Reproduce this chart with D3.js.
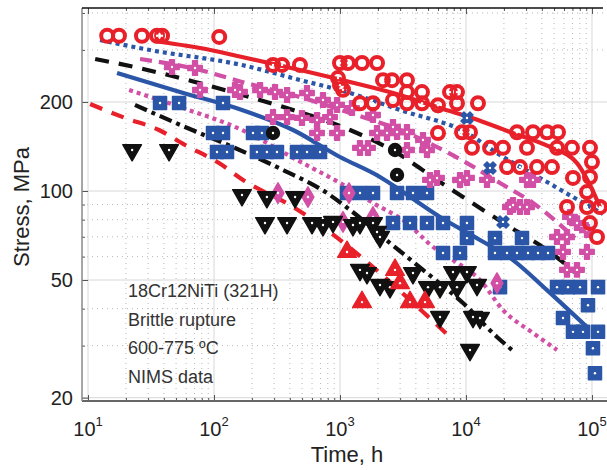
<!DOCTYPE html>
<html>
<head>
<meta charset="utf-8">
<script src="https://cdn.jsdelivr.net/npm/d3@7"></script>
<style>
body { margin: 0; background: #fff; }
text { font-family: "Liberation Sans", Arial, Helvetica, sans-serif; }
</style>
</head>
<body>
<script>
// time (h), stress (MPa)
var redCircles = [[14.2,335],[17.6,335],[26.8,335],[35.3,335],[38.7,335],[110,332],[294,267],[347,267],[481,267],
    [1000,271],[1157,271],[1495,271],[1967,271],[964,241],[1056,220],[1000,228],[2194,237],[2587,237],[1441,198],
    [1828,198],[2634,203],[3401,237],[3401,216],[3401,198],[4475,216],[4475,198],[5995,195],[7464,216],[8483,216],
    [8483,198],[12450,198],[5995,157],[9297,158],[10760,158],[11160,140],[15510,140],[19670,140],[30490,140],
    [25400,158],[34020,158],[43960,158],[53740,158],[52780,140],[69390,140],[96400,140],[21160,120.5],[26830,120.5],
    [36600,120.5],[48140,120.5],[70670,110.7],[100000,125.3],[96400,111.5],[91270,99.2],[63330,88.3],[91270,88.3],
    [115700,88.3],[96400,77.9],[109600,69.9]];
var blueCrosses = [[10180,176.6],[15510,119.6],[19670,78.6]];
var pinkPluses = [[46.4,262.6],[70.7,260.6],[77.4,219.6],[146.8,219.6],[160.8,216.2],[232,219.6],[305,216.2],
    [380,211.2],[547,214.5],[733,203.1],[947,195.4],[1245,190.8],[1828,180.7],[2634,164.6],[294,177.9],[380,177.9],
    [499,176.6],[657,173.9],[833,177.9],[657,157.1],[947,157.1],[1967,157.1],[2361,157.1],[2836,158.3],[1441,139.8],
    [1668,139.8],[3401,158.3],[4558,148.8],[4904,137.6],[3401,137.6],[5179,109],[5887,110.7],[8962,109],[10180,110.7],
    [14680,109],[22350,88.3],[26830,88.3],[30490,88.3],[30490,109],[34020,109],[23610,89.7],[66900,81.7],[76030,77.9],
    [91270,73.8],[52780,69.9],[63330,69.9],[58880,62.2],[91270,62.2],[63330,54.1],[76030,54.1]];
var blackCircles = [[294,157.1],[2733,137.6],[2836,113.3]];
var blueSquares = [[37.3,198.4],[52.8,198.4],[117.9,198.4],[98.2,157.1],[117.9,157.1],[204,157.1],[240,157.1],
    [105.6,135.5],[126.8,135.5],[219,135.5],[263,135.5],[316,135.5],[456,135.5],[547,135.5],[694,135.5],
    [1137,98.4],[1441,98.4],[1828,98.4],[2836,98.4],[3796,98.4],[4904,98.4],[2634,77.9],[3594,77.9],[4904,77.9],
    [6572,77.9],[10180,77.9],[10180,69.3],[6572,61.7],[8962,61.7],[16990,69.3],[27830,69.3],[16990,61.7],
    [21160,61.7],[25400,61.7],[31050,61.7],[37280,61.7],[44770,61.7],[18620,47.3],[52780,47.3],[64490,47.3],
    [80320,47.3],[111600,47.3],[92960,41.1],[58880,37.2],[70670,33.4],[84830,33.4],[111600,33.4],[101800,29.4],
    [105600,24.2]];
var pinkDiamonds = [[322,98.4],[557,95.4],[1056,78.6],[1179,98.4],[1828,81.7],[17620,48.8]];
var blackTriangles = [[22.4,137.6],[44,137.6],[166.8,96.9],[263,95.4],[440,95.4],[254,77.9],[380,77.9],[600,77.9],
    [733,76.7],[880,78.6],[1268,76.7],[1441,77.9],[1828,77.9],[2077,69.9],[1967,72.7],[1441,54.1],[1638,52.8],
    [2077,48.1],[2494,47.3],[3796,52.8],[4995,47.3],[6220,47.3],[7886,53.2],[10180,53.2],[8483,47.3],[12230,48.1],
    [6220,37.5],[11370,37.5],[12910,37.2],[10760,29]];
var redTriangles = [[1137,62.2],[1495,42.1],[2733,54.1],[2994,48.8],[3594,42.1],[4727,42.1]];

// fitted curves
var redSolid = [[33.4,321.6],[77.4,304.4],[166.8,283.9],[481,256.6],[1201,233.7],[2994,211.2],[6220,190.8],
    [12450,173.9],[22350,158.3],[46420,140.9],[76030,124.3],[96400,104.8],[115700,88.3]];
var blueDotted = [[12.45,324],[31,299.7],[166.8,266.7],[481,237.4],[1201,214.5],[2994,187.9],[10180,157.1],
    [18620,132.3],[38680,110.7],[70670,95.4],[122300,83.6]];
var pinkDashed = [[25.9,279.5],[77.4,256.6],[166.8,233.7],[481,207.9],[1201,183.6],[2994,160.8],[10180,124.3],
    [18620,106.4],[34020,91.1],[73300,69.3]];
var blackDashed = [[11.4,279.5],[25.4,260.6],[70.7,233.7],[204,206.3],[424,187.9],[1201,160.8],[2836,134.4],
    [5887,109],[9467,95.4],[22350,75.5],[43960,63.2],[73300,53.2]];
var blueSolid = [[17,250.7],[53.7,216.2],[166.8,187.9],[424,160.8],[1000,130.3],[2077,111.5],[2994,100.8],
    [6220,81.7],[12910,68.3],[23610,58.4],[43960,46.2],[92960,34.4]];
var pinkDotted = [[21.2,219.6],[53.7,192.3],[166.8,160.8],[456,127.3],[1000,106.4],[1828,91.1],[3401,77.9],
    [5472,64.7],[7886,58.4],[12910,50],[19670,39.6],[34020,33.1],[52780,29]];
var blackDashDot = [[23.6,195.4],[58.9,164.6],[146.8,139.8],[353,117.8],[789,98.4],[1201,86.3],[2494,66.7],
    [4558,54.1],[9467,41.8],[17620,32.1],[23180,29]];
var redDashed = [[10.4,196.9],[19.7,176.6],[36.6,160.8],[58.9,143.1],[109.6,124.3],[170,109],[424,88.3],
    [789,73.8],[1828,55.3],[3594,42.8],[7464,32.1]];

var xTicks = [10, 100, 1000, 10000, 100000];
var yTicks = [20, 50, 100, 200];
var yMinor = [30, 40, 60, 70, 80, 90, 300, 400];
var notes = ["18Cr12NiTi (321H)", "Brittle rupture", "600-775 \u00baC", "NIMS data"];

var red = "#e8202a", blue = "#2b56a8", pink = "#d24fa6", black = "#111";

var widthContainer = 607, heightContainer = 470;
var plotL = 82, plotR = 603, plotT = 8, plotB = 401;

var x = d3.scaleLog().domain([8.96, 122300]).range([plotL, plotR]);
var y = d3.scaleLog().domain([19.49, 415.8]).range([plotB, plotT]);

var xMinor = [];
xTicks.forEach(function(d) {
    for (var m = 2; m <= 9; m++) { if (d * m < 122300) xMinor.push(d * m); }
});

var svg = d3.select("body")
    .append("svg")
    .attr("width", widthContainer)
    .attr("height", heightContainer);

svg.append("rect").attr("width", widthContainer).attr("height", heightContainer).attr("fill", "#fff");

// grid
var grid = svg.append("g");
grid.selectAll(".vminor").data(xMinor).enter().append("line")
    .attr("x1", function(d) { return x(d); }).attr("x2", function(d) { return x(d); })
    .attr("y1", plotT).attr("y2", plotB)
    .attr("stroke", "#b8b8b8").attr("stroke-width", 1).attr("stroke-dasharray", "1,4");
grid.selectAll(".hminor").data(yMinor).enter().append("line")
    .attr("y1", function(d) { return y(d); }).attr("y2", function(d) { return y(d); })
    .attr("x1", plotL).attr("x2", widthContainer)
    .attr("stroke", "#b8b8b8").attr("stroke-width", 1).attr("stroke-dasharray", "1,4");
grid.selectAll(".vmajor").data(xTicks).enter().append("line")
    .attr("x1", function(d) { return x(d); }).attr("x2", function(d) { return x(d); })
    .attr("y1", plotT).attr("y2", plotB)
    .attr("stroke", "#d8d8d8").attr("stroke-width", 1);
grid.selectAll(".hmajor").data(yTicks).enter().append("line")
    .attr("y1", function(d) { return y(d); }).attr("y2", function(d) { return y(d); })
    .attr("x1", plotL).attr("x2", widthContainer)
    .attr("stroke", "#d8d8d8").attr("stroke-width", 1);

// axes, ticks inside
function tickAxis(axis, vals, size, tr) {
    var g = svg.append("g").attr("transform", tr)
        .call(axis.tickValues(vals).tickSize(size).tickFormat(""));
    g.select(".domain").remove();
    g.selectAll(".tick line").attr("stroke", "#555").attr("stroke-width", 1);
}
tickAxis(d3.axisBottom(x), xTicks, -6, "translate(0," + plotB + ")");
tickAxis(d3.axisBottom(x), xMinor, -3, "translate(0," + plotB + ")");
tickAxis(d3.axisTop(x), xTicks, -6, "translate(0," + plotT + ")");
tickAxis(d3.axisTop(x), xMinor, -3, "translate(0," + plotT + ")");
tickAxis(d3.axisLeft(y), yTicks, -6, "translate(" + plotL + ",0)");
tickAxis(d3.axisLeft(y), yMinor, -3, "translate(" + plotL + ",0)");

svg.append("line").attr("x1", plotL).attr("x2", widthContainer).attr("y1", plotB).attr("y2", plotB)
    .attr("stroke", "#666").attr("stroke-width", 2);
svg.append("line").attr("x1", plotL).attr("x2", plotL).attr("y1", plotT).attr("y2", plotB)
    .attr("stroke", "#888").attr("stroke-width", 1.5);
svg.append("line").attr("x1", plotL).attr("x2", plotR).attr("y1", plotT).attr("y2", plotT)
    .attr("stroke", "#111").attr("stroke-width", 1.5);

svg.selectAll(".xlab").data(xTicks).enter().append("text")
    .attr("x", function(d) { return x(d); })
    .attr("y", 436)
    .attr("text-anchor", "middle")
    .attr("font-size", 20)
    .attr("fill", "#222")
    .each(function(d) {
        var t = d3.select(this);
        t.append("tspan").text("10");
        t.append("tspan").attr("dy", -10).attr("font-size", 13).text(Math.round(Math.log10(d)));
    });

svg.selectAll(".ylab").data(yTicks).enter().append("text")
    .attr("x", 73)
    .attr("y", function(d) { return y(d); })
    .attr("dy", "0.36em")
    .attr("text-anchor", "end")
    .attr("font-size", 20)
    .attr("fill", "#222")
    .text(function(d) { return d; });

svg.append("text")
    .attr("x", 347).attr("y", 462)
    .attr("text-anchor", "middle")
    .attr("font-size", 22)
    .attr("fill", "#222")
    .text("Time, h");

svg.append("text")
    .attr("transform", "translate(29,207) rotate(-90)")
    .attr("text-anchor", "middle")
    .attr("font-size", 22)
    .attr("fill", "#222")
    .text("Stress, MPa");

svg.selectAll(".note").data(notes).enter().append("text")
    .attr("x", 128)
    .attr("y", function(d, i) { return 297 + i * 28.5; })
    .attr("font-size", 18)
    .attr("fill", "#333")
    .text(function(d) { return d; });

// fitted lines
var line = d3.line()
    .x(function(d) { return x(d[0]); })
    .y(function(d) { return y(d[1]); })
    .curve(d3.curveMonotoneX);

var fits = [
    {pts: redDashed, color: red, dash: "13,10"},
    {pts: blackDashDot, color: black, dash: "13,5,4,5"},
    {pts: pinkDotted, color: pink, dash: "4,4"},
    {pts: blueSolid, color: blue, dash: null},
    {pts: blackDashed, color: black, dash: "14,10"},
    {pts: pinkDashed, color: pink, dash: "12,7"},
    {pts: blueDotted, color: blue, dash: "4,4"},
    {pts: redSolid, color: red, dash: null}
];
fits.forEach(function(f) {
    svg.append("path")
        .attr("d", line(f.pts))
        .attr("fill", "none")
        .attr("stroke", f.color)
        .attr("stroke-width", 4.2)
        .attr("stroke-dasharray", f.dash);
});

// markers
function symbols(data, type, size, color, rot) {
    var g = svg.append("g");
    g.selectAll("path").data(data).enter().append("path")
        .attr("d", d3.symbol().type(type).size(size))
        .attr("transform", function(d) { return "translate(" + x(d[0]) + "," + y(d[1]) + ") rotate(" + rot + ")"; })
        .attr("fill", color)
        .attr("stroke", color)
        .attr("stroke-width", 1.5)
        .attr("stroke-linejoin", "round");
    g.selectAll("circle").data(data).enter().append("circle")
        .attr("cx", function(d) { return x(d[0]); })
        .attr("cy", function(d) { return y(d[1]); })
        .attr("r", 1.2)
        .attr("fill", "#fff");
}

symbols(blueSquares, d3.symbolSquare, 170, blue, 0);
symbols(pinkPluses, d3.symbolCross, 115, pink, 0);
symbols(pinkDiamonds, d3.symbolDiamond, 120, pink, 0);
symbols(blackCircles, d3.symbolCircle, 130, black, 0);
symbols(blackTriangles, d3.symbolTriangle, 150, black, 180);
symbols(redTriangles, d3.symbolTriangle, 150, red, 0);
symbols(blueCrosses, d3.symbolCross, 90, blue, 45);

var rc = svg.append("g");
rc.selectAll("circle.ring").data(redCircles).enter().append("circle")
    .attr("cx", function(d) { return x(d[0]); })
    .attr("cy", function(d) { return y(d[1]); })
    .attr("r", 6)
    .attr("fill", "none")
    .attr("stroke", red)
    .attr("stroke-width", 4);
rc.selectAll("circle.dot").data(redCircles).enter().append("circle")
    .attr("cx", function(d) { return x(d[0]); })
    .attr("cy", function(d) { return y(d[1]); })
    .attr("r", 1.2)
    .attr("fill", "#fff");
</script>
</body>
</html>
